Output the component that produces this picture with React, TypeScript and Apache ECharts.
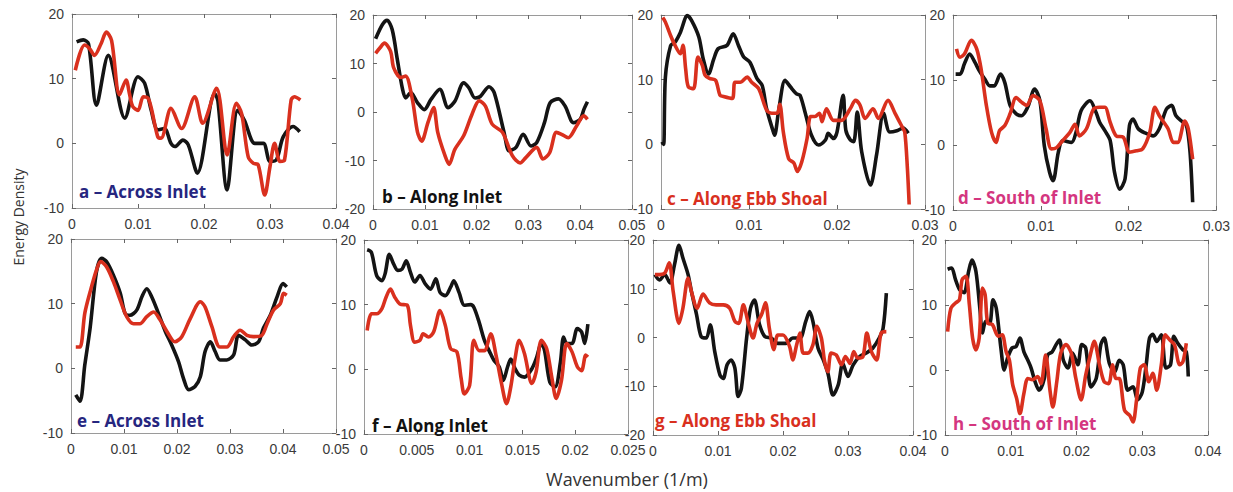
import React, { useEffect, useRef } from "react";
import * as echarts from "echarts";

// Wavenumber (1/m), Energy Density pairs
const aBlack = [[0.0007,15.7],[0.0017,16.0],[0.0025,15.4],[0.0037,5.9],[0.0055,13.6],[0.008,3.9],[0.01,10.3],[0.011,9.3],[0.012,5.1],[0.013,2.1],[0.014,2.3],[0.015,0],[0.0156,-0.5],[0.0168,0.5],[0.0176,-0.2],[0.019,-4.6],[0.0216,7.7],[0.0221,6.6],[0.0235,-7.2],[0.0251,5.1],[0.0261,3.6],[0.0277,0],[0.029,0],[0.030,-2.8],[0.031,-2.5],[0.032,1.0],[0.0335,2.6],[0.0345,1.8]];
const aRed = [[0.0005,11.3],[0.0019,15.2],[0.0027,14.6],[0.0034,13.6],[0.0044,15.4],[0.0052,17.2],[0.006,15.9],[0.0072,7.5],[0.0082,9.8],[0.0087,7.7],[0.0092,5.7],[0.010,5.1],[0.0108,7.2],[0.0115,7.0],[0.012,5.5],[0.013,1.0],[0.0135,0.8],[0.015,5.4],[0.0166,2.3],[0.0186,7.2],[0.0198,3.1],[0.0219,8.5],[0.0235,-1.8],[0.0249,6.2],[0.0257,4.6],[0.0267,-2.1],[0.0275,-3.1],[0.0282,-3.3],[0.0292,-8.0],[0.030,-3.6],[0.0307,0],[0.0315,-2.8],[0.0322,-2.6],[0.0332,6.7],[0.0337,7.2],[0.0346,6.7]];
const bBlack = [[0.0005,15.1],[0.0018,18.0],[0.0027,18.9],[0.0037,17.0],[0.0047,10.8],[0.0057,4.7],[0.0063,2.9],[0.0073,4.0],[0.0086,1.9],[0.0099,0.5],[0.0112,2.6],[0.0129,4.7],[0.0145,0.9],[0.0158,2.2],[0.0175,6.0],[0.0185,5.0],[0.0197,2.9],[0.0207,3.2],[0.0224,5.2],[0.0234,4.0],[0.0253,-4.2],[0.0263,-8.0],[0.0276,-7.3],[0.029,-4.6],[0.0305,-7.0],[0.0316,-6.3],[0.0331,-2.2],[0.0342,1.9],[0.0358,2.7],[0.0371,1.2],[0.0387,-2.2],[0.040,-1.5],[0.0407,0.5],[0.0414,2.1]];
const bRed = [[0.0005,12.1],[0.0014,13.3],[0.0022,14.2],[0.0034,12.5],[0.004,9.1],[0.0054,7.1],[0.0063,7.4],[0.0076,2.6],[0.0086,-4.2],[0.0094,-6.0],[0.0106,-2.2],[0.0117,0.9],[0.0125,-4.2],[0.0139,-9.0],[0.0147,-10.8],[0.0158,-7.7],[0.0175,-4.9],[0.0191,-0.5],[0.0205,2.3],[0.0217,1.2],[0.023,-2.5],[0.025,-4.2],[0.0269,-9.0],[0.0284,-10.5],[0.0295,-9.4],[0.0316,-7.3],[0.0328,-9.7],[0.0341,-8.4],[0.0354,-4.2],[0.0364,-4.6],[0.0377,-5.3],[0.0393,-2.9],[0.0407,-0.8],[0.0414,-1.5]];
const cBlack = [[0.0001,0.4],[0.0003,0],[0.0005,10.4],[0.0011,15.3],[0.0016,15.8],[0.0022,17.3],[0.003,19.9],[0.0035,19.1],[0.0043,16.6],[0.0048,13.2],[0.0054,10.9],[0.006,13.2],[0.0065,14.8],[0.0075,15.3],[0.0082,17.1],[0.0088,15.3],[0.0094,13.5],[0.0101,12.7],[0.0109,10.2],[0.0115,9.1],[0.012,5.5],[0.0127,2.2],[0.0129,1.4],[0.0134,5.5],[0.0141,9.9],[0.0147,8.9],[0.0154,7.8],[0.0158,7.6],[0.0164,4.8],[0.0171,1.4],[0.0179,-0.1],[0.0187,0.7],[0.019,1.7],[0.0196,0.9],[0.020,1.9],[0.0207,7.6],[0.021,2.2],[0.0215,0.7],[0.0219,0.4],[0.0223,5.0],[0.0228,-1.1],[0.0238,-6.3],[0.0245,-1.6],[0.0253,4.8],[0.026,1.9],[0.0268,2.1],[0.0275,2.5],[0.0281,1.7]];
const cRed = [[0.0002,19.6],[0.0005,18.9],[0.0011,16.8],[0.0016,15.3],[0.0022,14.0],[0.0025,15.3],[0.0028,11.7],[0.0031,8.9],[0.0037,8.6],[0.0042,13.5],[0.0047,12.2],[0.005,10.7],[0.0055,10.2],[0.0062,9.9],[0.0067,7.6],[0.0071,7.4],[0.0081,7.1],[0.0084,9.6],[0.009,9.6],[0.0098,10.4],[0.0103,9.6],[0.0111,8.6],[0.012,5.3],[0.0126,4.8],[0.0132,4.8],[0.0135,6.2],[0.0139,1.9],[0.0145,-2.2],[0.0151,-2.9],[0.0155,-4.2],[0.016,-2.7],[0.0166,0.9],[0.017,4.3],[0.0175,4.3],[0.018,4.8],[0.0183,3.5],[0.0188,5.5],[0.0196,3.7],[0.0205,3.7],[0.0215,5.5],[0.0221,6.8],[0.0226,6.1],[0.0232,4.0],[0.0241,5.5],[0.0247,4.0],[0.0258,6.8],[0.0266,4.8],[0.0274,2.7],[0.0277,1.9],[0.028,-3.7],[0.0282,-9.3]];
const dBlack = [[0.0003,10.9],[0.0008,10.9],[0.0013,12.5],[0.0019,14.0],[0.0025,12.7],[0.003,11.4],[0.0036,10.2],[0.0042,9.1],[0.0047,9.1],[0.0054,10.9],[0.0059,9.6],[0.0065,6.1],[0.0072,4.8],[0.0078,4.5],[0.0085,5.8],[0.0093,8.6],[0.0099,6.8],[0.0104,-0.1],[0.011,-4.2],[0.0114,-5.5],[0.012,-1.1],[0.0125,0.7],[0.0135,0.4],[0.014,1.9],[0.0146,5.3],[0.0156,6.8],[0.0163,5.0],[0.0167,3.5],[0.0173,2.2],[0.0179,0.7],[0.0184,-4.2],[0.019,-6.8],[0.0196,-5.2],[0.0201,3.0],[0.0205,4.0],[0.0211,2.5],[0.0218,1.9],[0.0228,1.4],[0.0235,2.5],[0.0243,5.5],[0.0249,6.1],[0.0254,4.5],[0.0262,3.5],[0.0266,3.0],[0.027,-1.1],[0.0273,-8.8]];
const dRed = [[0.0004,14.8],[0.0008,13.5],[0.0013,14.0],[0.0021,16.1],[0.0027,14.8],[0.0032,11.7],[0.0038,6.1],[0.0044,1.9],[0.0049,0.4],[0.0053,2.2],[0.0059,3.0],[0.0065,4.8],[0.0072,7.3],[0.0078,6.6],[0.0084,6.1],[0.0091,7.6],[0.0099,6.8],[0.0106,2.5],[0.0112,-0.6],[0.0118,-0.4],[0.0125,0.7],[0.0133,1.9],[0.0139,3.2],[0.0144,1.4],[0.0152,2.5],[0.016,5.5],[0.0167,5.8],[0.0173,5.8],[0.0179,3.5],[0.0186,1.4],[0.0194,1.2],[0.0201,-1.1],[0.0209,-0.9],[0.0216,-0.6],[0.0224,1.9],[0.023,5.8],[0.0235,4.5],[0.0245,2.5],[0.0251,0.4],[0.0256,0.4],[0.0264,3.7],[0.0268,2.5],[0.0273,-2.2]];
const eBlack = [[0.0009,-4.1],[0.0017,-5.1],[0.0026,0.5],[0.0036,6.2],[0.0048,14.9],[0.0058,17.0],[0.0067,16.5],[0.008,14.4],[0.0093,11.6],[0.0102,8.5],[0.0111,8.2],[0.0124,9.0],[0.0134,11.1],[0.0143,12.3],[0.0152,11.1],[0.0165,8.5],[0.0178,5.7],[0.019,3.6],[0.0203,1.0],[0.0212,-1.5],[0.0222,-3.3],[0.0234,-2.8],[0.0244,-1.3],[0.0253,2.6],[0.0263,4.1],[0.0272,2.6],[0.0281,1.3],[0.0294,1.3],[0.0307,2.1],[0.0316,5.1],[0.0329,4.4],[0.0341,3.6],[0.0354,4.1],[0.0363,6.2],[0.0376,8.2],[0.0389,11.1],[0.040,13.1],[0.0407,12.6]];
const eRed = [[0.0009,3.3],[0.0017,3.3],[0.0026,8.5],[0.0036,11.8],[0.0048,15.2],[0.0056,16.5],[0.0067,15.7],[0.008,13.4],[0.0093,10.5],[0.0105,8.0],[0.0118,6.9],[0.013,6.9],[0.0143,8.0],[0.0156,8.7],[0.0168,7.5],[0.0181,5.7],[0.0196,4.1],[0.0209,4.9],[0.0225,7.7],[0.0244,10.3],[0.0253,9.5],[0.0266,6.4],[0.0281,3.3],[0.0294,3.3],[0.0307,4.9],[0.0319,5.9],[0.0332,5.1],[0.0344,4.9],[0.036,5.1],[0.037,6.9],[0.0382,9.0],[0.0395,10.0],[0.0401,11.6],[0.0407,11.3]];
const fBlack = [[0.0003,18.5],[0.0007,18.1],[0.0012,14.5],[0.0017,13.7],[0.002,14.8],[0.0024,17.8],[0.0028,16.3],[0.0032,15.3],[0.0036,15.5],[0.004,16.8],[0.0044,15.0],[0.0048,13.5],[0.0053,14.5],[0.0058,13.2],[0.0063,12.4],[0.0068,14.0],[0.0072,11.9],[0.0077,11.4],[0.0082,12.7],[0.0085,13.7],[0.009,11.9],[0.0095,9.9],[0.0101,10.0],[0.0104,9.6],[0.0109,7.3],[0.0114,4.5],[0.0119,2.7],[0.0123,1.4],[0.0128,0.4],[0.0132,-1.7],[0.0136,0.4],[0.0139,1.6],[0.0143,0.1],[0.0147,-0.9],[0.0152,-1.2],[0.0159,0.1],[0.0163,1.6],[0.0168,4.0],[0.0171,2.9],[0.0176,-2.0],[0.0181,-2.7],[0.0186,1.1],[0.0189,5.0],[0.0192,4.0],[0.0197,4.0],[0.0202,6.3],[0.0206,5.8],[0.0209,4.0],[0.0212,7.0]];
const fRed = [[0.0003,6.0],[0.0007,8.6],[0.0012,8.6],[0.0017,9.4],[0.0021,11.2],[0.0025,12.4],[0.0029,11.2],[0.0034,10.1],[0.0041,9.9],[0.0044,6.8],[0.0048,4.2],[0.0053,4.5],[0.0056,5.5],[0.0061,5.0],[0.0066,5.8],[0.0072,9.1],[0.0077,6.8],[0.0082,3.2],[0.0088,2.7],[0.0092,-1.4],[0.0095,-3.8],[0.010,-2.5],[0.0104,4.5],[0.0109,2.9],[0.0114,2.9],[0.012,5.5],[0.0125,2.2],[0.013,-2.0],[0.0135,-5.3],[0.0139,-2.7],[0.0143,1.6],[0.0147,4.5],[0.0152,2.4],[0.0159,-2.2],[0.0163,-0.4],[0.0168,4.5],[0.0173,3.2],[0.0178,-1.4],[0.0182,-4.5],[0.0187,-1.7],[0.0192,4.0],[0.0197,2.7],[0.0202,0.4],[0.0206,-0.2],[0.021,2.2],[0.0212,1.9]];
const gBlack = [[0.0003,12.9],[0.001,11.8],[0.0018,12.9],[0.0026,11.2],[0.0033,14.9],[0.004,18.9],[0.0046,16.3],[0.0054,12.9],[0.0059,9.5],[0.0067,4.7],[0.0074,0.2],[0.0082,-0.1],[0.0088,2.6],[0.0095,-2.9],[0.0103,-7.7],[0.0108,-8.4],[0.0114,-5.6],[0.012,-4.6],[0.0126,-6.3],[0.0131,-12.1],[0.0136,-10.4],[0.0144,-0.1],[0.015,6.0],[0.0156,7.7],[0.0164,2.6],[0.0172,0.2],[0.0182,-0.1],[0.0192,-1.2],[0.0205,-1.2],[0.0215,-0.1],[0.0226,-0.1],[0.0235,3.3],[0.0241,5.3],[0.0246,3.3],[0.0254,-2.2],[0.0262,-4.6],[0.0269,-7.3],[0.0277,-11.8],[0.0285,-9.7],[0.0292,-5.3],[0.030,-8.0],[0.0308,-5.6],[0.0318,-3.9],[0.0328,-3.2],[0.0338,-2.2],[0.0348,-0.1],[0.0354,1.9],[0.0359,9.1]];
const gRed = [[0.0003,12.9],[0.001,12.9],[0.0018,13.2],[0.0025,15.3],[0.0031,9.5],[0.004,2.9],[0.0046,6.0],[0.0054,12.2],[0.0059,9.5],[0.0068,6.0],[0.0077,8.9],[0.0087,7.1],[0.0097,6.7],[0.0108,6.7],[0.0118,6.0],[0.0126,3.3],[0.0132,2.9],[0.0139,6.7],[0.0146,3.3],[0.0154,-0.1],[0.016,2.9],[0.0167,4.7],[0.0173,7.1],[0.0179,1.9],[0.0186,-2.5],[0.0192,0.5],[0.020,0.5],[0.021,-1.8],[0.0215,-4.6],[0.0221,-1.5],[0.0226,0.9],[0.0231,-3.2],[0.0238,-3.2],[0.0246,-1.5],[0.0252,2.3],[0.0259,-0.1],[0.0264,-4.9],[0.0269,-7.0],[0.0274,-3.2],[0.0282,-3.6],[0.029,-5.6],[0.0296,-3.9],[0.0303,-5.3],[0.0309,-2.9],[0.0315,-4.2],[0.0323,-3.9],[0.0329,0.9],[0.0336,-2.9],[0.0344,-4.6],[0.0351,0.9],[0.0359,1.2]];
const hBlack = [[0.0004,15.5],[0.001,15.7],[0.0016,13.9],[0.0022,12.4],[0.0029,11.9],[0.0036,15.2],[0.0041,16.9],[0.0047,15.2],[0.0053,9.5],[0.0057,5.7],[0.0062,7.5],[0.0068,7.2],[0.0073,10.8],[0.0078,9.5],[0.0085,3.4],[0.009,0],[0.0095,1.8],[0.0102,3.4],[0.0108,3.6],[0.0114,4.9],[0.012,2.8],[0.0126,1.5],[0.0131,0.3],[0.0137,-1.8],[0.0143,-3.1],[0.0151,-1.3],[0.0156,2.3],[0.0163,2.8],[0.0169,3.9],[0.0174,4.6],[0.018,1.5],[0.0187,0.3],[0.0194,2.6],[0.0202,0.8],[0.0208,3.9],[0.0214,3.4],[0.0222,-2.6],[0.023,-1.3],[0.0237,3.9],[0.0242,4.9],[0.025,1.0],[0.0258,-0.3],[0.0265,1.5],[0.0271,0.8],[0.0278,-3.1],[0.0286,-2.6],[0.0293,-4.6],[0.030,-3.4],[0.0306,0.8],[0.0311,4.9],[0.0316,5.5],[0.0322,4.4],[0.0329,5.4],[0.0336,0.3],[0.0343,0.8],[0.0348,5.2],[0.0354,4.1],[0.0362,3.1],[0.0367,2.8],[0.037,-1.0]];
const hRed = [[0.0004,5.9],[0.0009,9.5],[0.0016,10.3],[0.0022,10.8],[0.0026,13.9],[0.0032,14.4],[0.0037,10.1],[0.0042,4.9],[0.0047,3.1],[0.0052,4.9],[0.0057,12.6],[0.0061,11.6],[0.0065,7.2],[0.0072,7.0],[0.0081,5.2],[0.0087,5.4],[0.0093,2.8],[0.0098,1.5],[0.0103,-2.3],[0.0109,-4.4],[0.0114,-6.7],[0.012,-3.6],[0.0126,-1.3],[0.0133,-1.5],[0.0141,-1.0],[0.0146,-2.1],[0.0153,2.3],[0.016,-3.4],[0.0164,-5.7],[0.017,-1.8],[0.0176,2.6],[0.0184,3.9],[0.0192,2.6],[0.0199,-1.3],[0.0207,-4.6],[0.0214,-0.8],[0.0221,2.3],[0.0227,4.4],[0.0235,0.8],[0.0242,-1.8],[0.0249,-2.1],[0.0255,0.8],[0.026,-1.3],[0.0265,-1.3],[0.0273,-6.2],[0.0281,-7.0],[0.0286,-8.0],[0.0291,-4.9],[0.0297,0.3],[0.0303,0.8],[0.031,-1.8],[0.0316,-0.5],[0.0322,-3.1],[0.0329,0.8],[0.0335,5.4],[0.0342,4.6],[0.0349,3.9],[0.0357,0.8],[0.0362,1.3],[0.0367,4.1]];

const blackSeries = [aBlack, bBlack, cBlack, dBlack, eBlack, fBlack, gBlack, hBlack];
const redSeries = [aRed, bRed, cRed, dRed, eRed, fRed, gRed, hRed];
const panelLabels = [
  "a – Across Inlet", "b – Along Inlet", "c – Along Ebb Shoal", "d – South of Inlet",
  "e – Across Inlet", "f – Along Inlet", "g – Along Ebb Shoal", "h – South of Inlet",
];
const xMaxes = [0.04, 0.05, 0.03, 0.03, 0.05, 0.025, 0.04, 0.04];
const xSteps = [0.01, 0.01, 0.01, 0.01, 0.01, 0.005, 0.01, 0.01];
const yMins = [-10, -20, -10, -10, -10, -10, -20, -10];
const yMax = 20;
const yStep = 10;
const yTitle = "Energy Density";
const xTitle = "Wavenumber (1/m)";

// layout (pixels)
const grids = [
  { left: 72, top: 14, width: 264, height: 194 },
  { left: 373, top: 15, width: 259, height: 194 },
  { left: 661, top: 15, width: 264, height: 194 },
  { left: 953, top: 15, width: 264, height: 195 },
  { left: 71, top: 239, width: 265, height: 194 },
  { left: 364, top: 240, width: 264, height: 194 },
  { left: 653, top: 240, width: 260, height: 195 },
  { left: 945, top: 240, width: 263, height: 195 },
];
const labelPos = [
  [79, 191], [382, 196], [667, 198], [958, 197],
  [77, 420], [372, 425], [655, 420], [953, 423],
];
const NAVY = "#26267f";
const RED = "#d9301e";
const PINK = "#d4367f";
const labelColors = [NAVY, "#111111", RED, PINK, NAVY, "#111111", RED, PINK];

const fmt = (v: number) => String(+v.toFixed(4));

export default function App() {
  const ref = useRef<HTMLDivElement>(null);
  useEffect(() => {
    document.body.style.margin = "0";
    if (!ref.current) return;
    const chart = echarts.init(ref.current, null, { renderer: "svg" });
    const axisLine = { show: true, onZero: false, lineStyle: { color: "#9a9a9a", width: 1 } };
    const tick = { show: true, inside: true, length: 4, lineStyle: { color: "#666" } };
    const labelStyle = { color: "#3a3a3a", fontSize: 14, fontFamily: "Liberation Sans, Arial, sans-serif" };
    const xAxis: any[] = [];
    const yAxis: any[] = [];
    const series: any[] = [];
    grids.forEach((g, i) => {
      const xBase = { type: "value", gridIndex: i, min: 0, max: xMaxes[i], interval: xSteps[i], splitLine: { show: false }, axisLine, axisTick: tick };
      xAxis.push({ ...xBase, position: "bottom", axisLabel: { ...labelStyle, margin: 9, formatter: fmt, showMaxLabel: true, showMinLabel: true } });
      xAxis.push({ ...xBase, position: "top", axisLabel: { show: false } });
      const yBase = { type: "value", gridIndex: i, min: yMins[i], max: yMax, interval: yStep, splitLine: { show: false }, axisLine, axisTick: tick };
      yAxis.push({ ...yBase, position: "left", axisLabel: { ...labelStyle, margin: 8, formatter: fmt } });
      yAxis.push({ ...yBase, position: "right", axisLabel: { show: false } });
      series.push({ type: "line", xAxisIndex: 2 * i, yAxisIndex: 2 * i, data: blackSeries[i], showSymbol: false, symbol: "none", smooth: 0.3, lineStyle: { color: "#141414", width: 3.6 }, z: 2 });
      series.push({ type: "line", xAxisIndex: 2 * i, yAxisIndex: 2 * i, data: redSeries[i], showSymbol: false, symbol: "none", smooth: 0.3, lineStyle: { color: RED, width: 3.6 }, z: 3 });
    });
    const graphic: any[] = panelLabels.map((t, i) => ({
      type: "text", x: labelPos[i][0], y: labelPos[i][1], z: 10,
      style: { text: t, fill: labelColors[i], fontFamily: "Open Sans, sans-serif", fontWeight: "bold", fontSize: 17, verticalAlign: "middle", align: "left" },
    }));
    graphic.push({
      type: "text", x: 18, y: 217, rotation: Math.PI / 2,
      style: { text: yTitle, fill: "#333", fontFamily: "Open Sans, sans-serif", fontSize: 14, align: "center", verticalAlign: "middle" },
    });
    graphic.push({
      type: "text", x: 627, y: 479,
      style: { text: xTitle, fill: "#333", fontFamily: "Open Sans, sans-serif", fontSize: 18, align: "center", verticalAlign: "middle" },
    });
    chart.setOption({
      animation: false,
      backgroundColor: "#ffffff",
      grid: grids.map((g) => ({ ...g, containLabel: false })),
      xAxis, yAxis, series, graphic,
    });
    return () => chart.dispose();
  }, []);
  return <div ref={ref} style={{ width: 1233, height: 492 }} />;
}
